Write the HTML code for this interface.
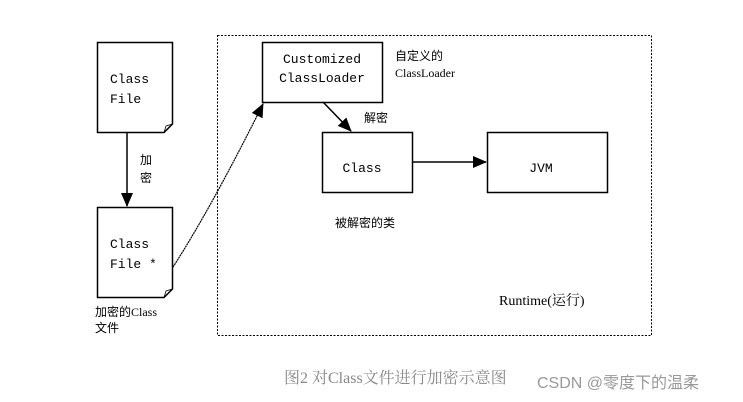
<!DOCTYPE html>
<html><head><meta charset="utf-8"><style>
html,body{margin:0;padding:0;background:#fff;width:743px;height:402px;overflow:hidden}
svg text{font-family:"Liberation Serif","Noto Serif CJK SC",serif;fill:#000}
svg text.m{font-family:"Liberation Mono","Noto Sans CJK SC",monospace}
svg text.c{font-family:"Liberation Serif","Noto Sans CJK SC",sans-serif}
</style></head><body>
<svg width="743" height="402" xmlns="http://www.w3.org/2000/svg">
<defs><marker id="a" markerWidth="14" markerHeight="12" refX="13" refY="6" orient="auto" markerUnits="userSpaceOnUse"><path d="M0,0 L14,6 L0,12 z" fill="#000"/></marker></defs>
<rect x="217.5" y="35.5" width="434" height="300" fill="none" stroke="#000" stroke-dasharray="2,1.5" stroke-width="1"/>
<g stroke-width="1.5">
<path d="M97.5,42.5 H172.5 V124 L164,132.5 H97.5 Z" fill="#fff" stroke="#000"/>
<path d="M164,132.5 L166,126 L172.5,124" fill="none" stroke="#000" stroke-width="0.8"/>
<line x1="127" y1="132" x2="127" y2="206" stroke="#000" marker-end="url(#a)"/>
<path d="M97.5,207.5 H172.5 V289 L164,297.5 H97.5 Z" fill="#fff" stroke="#000"/>
<path d="M164,297.5 L166,291 L172.5,289" fill="none" stroke="#000" stroke-width="0.8"/>
<rect x="262.5" y="42.5" width="120" height="60" fill="#fff" stroke="#000"/>
<line x1="323" y1="102" x2="351" y2="131" stroke="#000" marker-end="url(#a)"/>
<rect x="322.5" y="132.5" width="90" height="60" fill="#fff" stroke="#000"/>
<line x1="412" y1="162" x2="486" y2="162" stroke="#000" marker-end="url(#a)"/>
<rect x="487.5" y="132.5" width="120" height="60" fill="#fff" stroke="#000"/>
</g>
<path d="M173,267 Q210,210 263,104" fill="none" stroke="#000" stroke-width="1.2" stroke-dasharray="2,0.6" marker-end="url(#a)"/>
<text class="m" x="110" y="83" font-size="13">Class</text>
<text class="m" x="110" y="103" font-size="13">File</text>
<text class="c" x="140" y="164" font-size="12">加</text>
<text class="c" x="140" y="182" font-size="12">密</text>
<text class="m" x="110" y="248" font-size="13">Class</text>
<text class="m" x="110" y="268" font-size="13">File *</text>
<text class="c" x="95" y="316" font-size="12">加密的Class</text>
<text class="c" x="95" y="332" font-size="12">文件</text>
<text class="m" x="322" y="63" font-size="13" text-anchor="middle">Customized</text>
<text class="m" x="322" y="82" font-size="13" text-anchor="middle">ClassLoader</text>
<text class="c" x="395" y="60" font-size="12">自定义的</text>
<text x="395" y="77" font-size="12">ClassLoader</text>
<text class="c" x="364" y="122" font-size="12">解密</text>
<text class="m" x="362" y="172" font-size="13" text-anchor="middle">Class</text>
<text class="c" x="335" y="227" font-size="12">被解密的类</text>
<text class="m" x="541" y="172" font-size="13" text-anchor="middle">JVM</text>
<text x="499" y="305" font-size="14">Runtime(运行)</text>
<text x="284" y="383" font-size="16" style="fill:#888">图2 对Class文件进行加密示意图</text>
<text x="537" y="388" font-size="16" style="fill:#999;font-family:'Liberation Sans','Noto Sans CJK SC',sans-serif">CSDN @零度下的温柔</text>
</svg>
</body></html>
